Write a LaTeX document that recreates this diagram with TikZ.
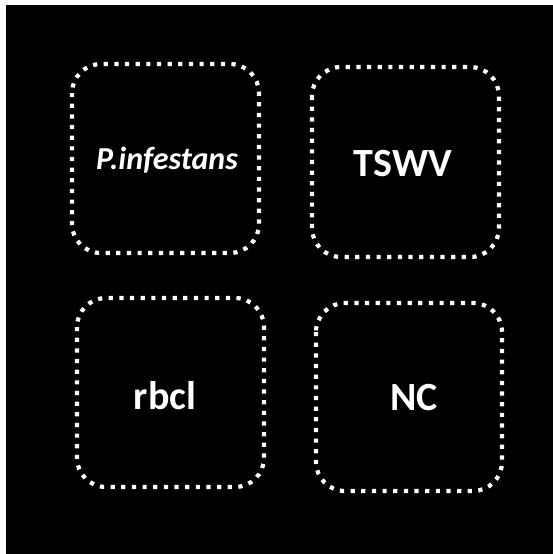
\documentclass[tikz,border=0pt]{standalone}
\usepackage{fontspec}
\setmainfont{Carlito}
\begin{document}
\begin{tikzpicture}[x=1pt,y=-1pt,
  sample/.style={draw=white, line width=4.2pt, dash pattern=on 4.2pt off 6.45pt,
    rounded corners=29pt},
  label/.style={text=white, font=\bfseries\fontsize{40}{44}\selectfont}]
% page and dark panel
\fill[white] (0,0) rectangle (553,554);
\fill[black] (6,5) rectangle (553,554);
\useasboundingbox (0,0) rectangle (553,554);
% four sample boxes
\draw[sample] (72,64) rectangle (259,253);
\draw[sample] (312,67) rectangle (499,257);
\draw[sample] (77,298) rectangle (264,487);
\draw[sample] (316,303) rectangle (502,491);
% labels
\node[label, font=\bfseries\itshape\fontsize{32}{36}\selectfont] (pinf) at (167,160) {P.infestans};
\node[label] (tswv) at (403,164) {TSWV};
\node[label] (rbcl) at (165,396) {rbcl};
\node[label] (nc) at (414,398) {NC};
\end{tikzpicture}
\end{document}
